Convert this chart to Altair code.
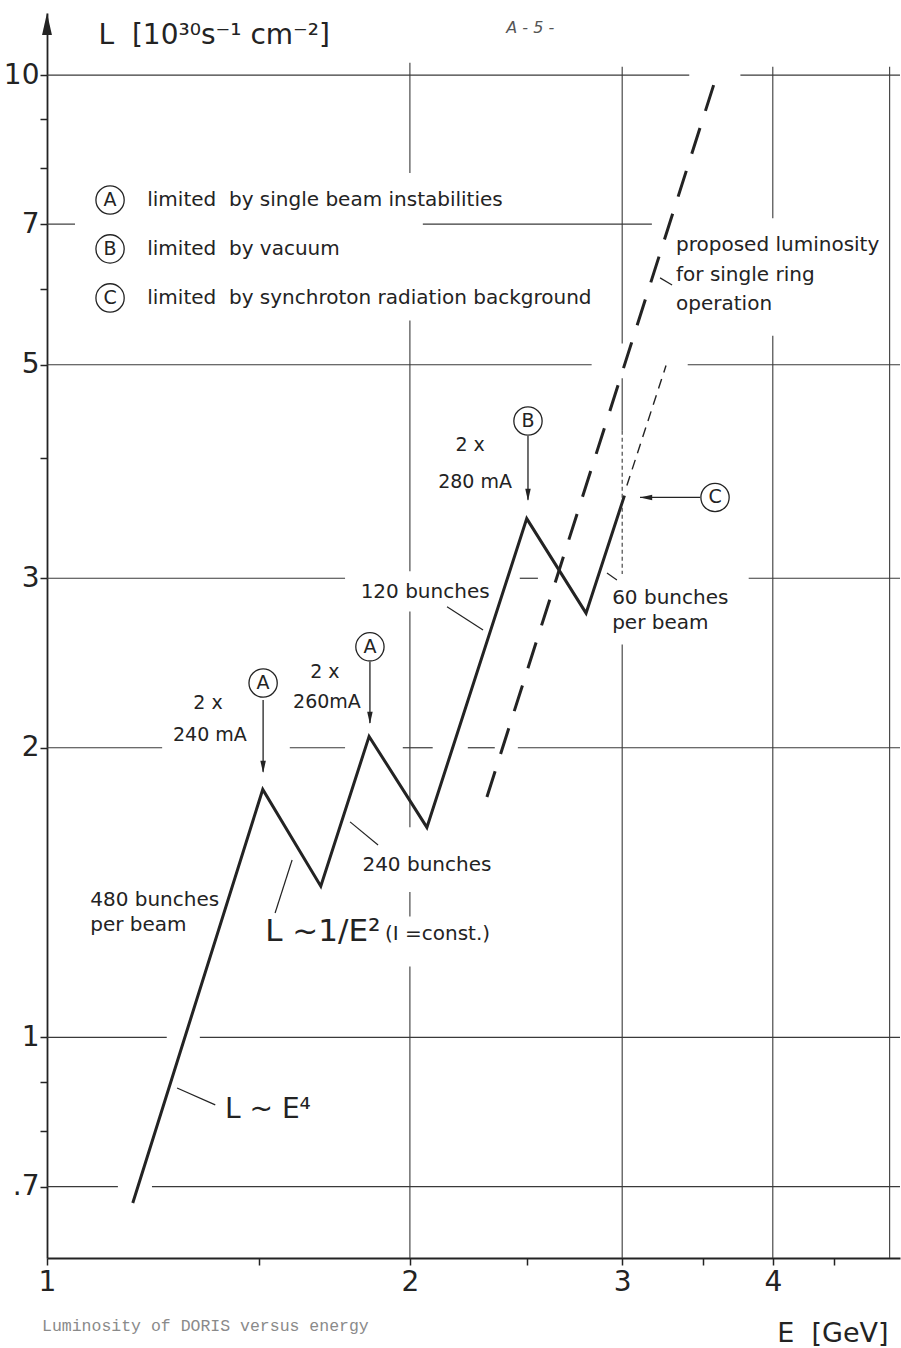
import altair as alt
import pandas as pd

# DORIS luminosity vs beam energy (E in GeV, L in 10^30 s^-1 cm^-2)
curve_E = [1.178, 1.51, 1.687, 1.85, 2.066, 2.50, 2.80, 3.013]
curve_L = [0.673, 1.81, 1.436, 2.055, 1.653, 3.46, 2.76, 3.656]

# proposed luminosity for single ring operation (L ~ E^4)
proposed_E = [2.317, 3.610]
proposed_L = [1.778, 10.17]

# continuation above the synchrotron radiation limit
extension_E = [3.027, 3.262]
extension_L = [3.745, 4.99]

# hand-drawn grid: horizontal segments (L, E from, E to)
hgrid_L = [10, 10, 7, 7, 5, 5, 3, 3, 3, 2, 2, 2, 2, 2, 1, 1, 0.7, 0.7]
hgrid_E0 = [1, 3.76, 1, 2.05, 1, 3.40, 1, 2.467, 3.82, 1, 1.590, 1.973, 2.234, 2.458, 1, 1.339, 1, 1.222]
hgrid_E1 = [3.41, 5.1, 1.055, 3.175, 2.83, 5.1, 1.767, 2.554, 5.1, 1.246, 1.767, 2.089, 2.352, 5.1, 1.257, 5.1, 1.145, 5.1]

# vertical segments (E, L from, L to)
vgrid_E = [2, 2, 2, 2, 2, 3, 3, 3, 4, 4, 5]
vgrid_L0 = [10.3, 5.56, 2.77, 1.416, 1.185, 10.2, 4.84, 2.56, 10.2, 5.36, 10.2]
vgrid_L1 = [7.91, 3.05, 1.654, 1.336, 0.59, 5.26, 4.27, 0.59, 7.10, 0.59, 0.59]
dotted_E = [3]
dotted_L0 = [4.27]
dotted_L1 = [3.03]

# limit markers: circled letters and arrows pointing at the curve
marker_letters = ["A", "A", "B", "C", "A", "B", "C"]
marker_E = [1.511, 1.853, 2.506, 3.582, 1.128, 1.128, 1.128]
marker_L = [2.335, 2.546, 4.371, 3.640, 7.417, 6.597, 5.867]

arrow_E0 = [1.511, 1.853, 2.506, 3.481]
arrow_L0 = [2.242, 2.456, 4.217, 3.640]
arrow_E1 = [1.511, 1.853, 2.506, 3.104]
arrow_L1 = [1.888, 2.122, 3.619, 3.640]
head_down_E = [1.511, 1.853, 2.506]
head_down_L = [1.910, 2.148, 3.662]
head_left_E = [3.140]
head_left_L = [3.640]

# leader lines from labels to the curves
leader_E0 = [2.147, 2.914, 1.784, 1.597, 1.282, 3.225]
leader_L0 = [2.802, 3.038, 1.675, 1.529, 0.886, 6.155]
leader_E1 = [2.300, 2.970, 1.882, 1.546, 1.379, 3.300]
leader_L1 = [2.651, 2.988, 1.585, 1.347, 0.851, 6.052]

# centred annotations
center_text = ["2 x", "240 mA", "2 x", "260mA", "2 x", "280 mA",
               "120 bunches", "240 bunches"]
center_E = [1.360, 1.365, 1.700, 1.707, 2.244, 2.265, 2.059, 2.066]
center_L = [2.227, 2.062, 2.398, 2.232, 4.127, 3.778, 2.904, 1.511]
center_size = [19, 19, 19, 19, 19, 19, 20, 20]

# left-aligned annotations
left_text = ["limited\u00a0 by single beam instabilities",
             "limited\u00a0 by vacuum",
             "limited\u00a0 by synchroton radiation background",
             "proposed luminosity", "for single ring", "operation",
             "60 bunches", "per beam", "480 bunches", "per beam",
             "L ~1/E\u00b2", "(I =const.)", "L ~ E\u2074"]
left_E = [1.211, 1.211, 1.211, 3.325, 3.325, 3.325, 2.943, 2.943,
          1.086, 1.086, 1.517, 1.907, 1.405]
left_L = [7.417, 6.597, 5.867, 6.659, 6.199, 5.783, 2.861, 2.696,
          1.390, 1.309, 1.287, 1.281, 0.841]
left_size = [20, 20, 20, 20, 20, 20, 20, 20, 20, 20, 31, 20, 28]

# page mark at the top and typed caption below the axis
page_mark = ["A - 5 -"]
page_mark_E = [2.517]
page_mark_L = [11.19]

caption = ["Luminosity of DORIS versus energy"]
caption_E = [0.9905]
caption_L = [0.502]

INK = "#232323"
GRID = "#3a3a3a"
FONT = "DejaVu Sans"

xs = alt.Scale(type="log", domain=[1, 5.1], nice=False, zero=False)
ys = alt.Scale(type="log", domain=[0.59, 11.6], nice=False, zero=False)

x_axis = alt.Axis(
    values=[1, 1.5, 2, 2.5, 3, 3.5, 4, 4.5],
    labelExpr="(datum.value == 1 || datum.value == 2 || datum.value == 3 || datum.value == 4) ? format(datum.value, 'd') : ''",
    grid=False, domainColor=INK, domainWidth=1.8, tickColor=INK, tickWidth=1.5,
    tickSize=7, labelFont=FONT, labelFontSize=28, labelColor=INK,
    labelPadding=3, labelFlush=False, labelOverlap=False,
    title="E\u00a0 [GeV]", titleFont=FONT, titleFontSize=27, titleFontWeight="normal",
    titleColor=INK, titleX=841, titleY=75, titleAlign="right", titleBaseline="middle",
)
y_axis = alt.Axis(
    values=[0.7, 0.8, 0.9, 1, 2, 3, 4, 5, 6, 7, 8, 9, 10],
    labelExpr="indexof([0.7, 1, 2, 3, 5, 7, 10], datum.value) >= 0 ? (datum.value < 1 ? '.7' : format(datum.value, 'd')) : ''",
    grid=False, domainColor=INK, domainWidth=1.8, tickColor=INK, tickWidth=1.5,
    tickSize=7, labelFont=FONT, labelFontSize=28, labelColor=INK,
    labelPadding=1, labelFlush=False, labelOverlap=False,
    title="L\u00a0 [10\u00b3\u2070s\u207b\u00b9\u00a0cm\u207b\u00b2]", titleFont=FONT, titleFontSize=28,
    titleFontWeight="normal", titleColor=INK, titleAngle=0, titleX=51, titleY=22,
    titleAlign="left", titleBaseline="middle",
)


def X(field="E"):
    return alt.X(field, type="quantitative", scale=xs, axis=x_axis)


def Y(field="L"):
    return alt.Y(field, type="quantitative", scale=ys, axis=y_axis)


hgrid = pd.DataFrame({"L": hgrid_L, "E": hgrid_E0, "E2": hgrid_E1})
vgrid = pd.DataFrame({"E": vgrid_E, "L": vgrid_L0, "L2": vgrid_L1})
dgrid = pd.DataFrame({"E": dotted_E, "L": dotted_L0, "L2": dotted_L1})
curve = pd.DataFrame({"E": curve_E, "L": curve_L, "i": range(len(curve_E))})
proposed = pd.DataFrame({"E": proposed_E, "L": proposed_L})
extension = pd.DataFrame({"E": extension_E, "L": extension_L})
markers = pd.DataFrame({"E": marker_E, "L": marker_L, "t": marker_letters})
arrows = pd.DataFrame({"E": arrow_E0, "L": arrow_L0, "E2": arrow_E1, "L2": arrow_L1})
heads_down = pd.DataFrame({"E": head_down_E, "L": head_down_L})
heads_left = pd.DataFrame({"E": head_left_E, "L": head_left_L})
leaders = pd.DataFrame({"E": leader_E0, "L": leader_L0, "E2": leader_E1, "L2": leader_L1})
centers = pd.DataFrame({"E": center_E, "L": center_L, "t": center_text, "s": center_size})
lefts = pd.DataFrame({"E": left_E, "L": left_L, "t": left_text, "s": left_size})
marks = pd.DataFrame({"E": page_mark_E, "L": page_mark_L, "t": page_mark})
caps = pd.DataFrame({"E": caption_E, "L": caption_L, "t": caption})
arrow_top = pd.DataFrame({"E": [1.0], "L": [11.30]})

h_layer = alt.Chart(hgrid).mark_rule(color=GRID, strokeWidth=1.2).encode(
    x=X(), x2="E2", y=Y())
v_layer = alt.Chart(vgrid).mark_rule(color=GRID, strokeWidth=1.1).encode(
    x=X(), y=Y(), y2="L2")
d_layer = alt.Chart(dgrid).mark_rule(color=GRID, strokeWidth=1.1, strokeDash=[4, 3]).encode(
    x=X(), y=Y(), y2="L2")

curve_layer = alt.Chart(curve).mark_line(color=INK, strokeWidth=3, strokeJoin="miter").encode(
    x=X(), y=Y(), order="i")
proposed_layer = alt.Chart(proposed).mark_line(
    color=INK, strokeWidth=3, strokeDash=[27, 18], strokeCap="butt").encode(x=X(), y=Y())
extension_layer = alt.Chart(extension).mark_line(
    color=INK, strokeWidth=1.4, strokeDash=[10, 7]).encode(x=X(), y=Y())

circle_layer = alt.Chart(markers).mark_point(
    shape="circle", filled=False, size=800, strokeWidth=1.3, color=INK, opacity=1).encode(
    x=X(), y=Y())
letter_layer = alt.Chart(markers).mark_text(
    font=FONT, fontSize=19, color=INK, align="center", baseline="middle").encode(
    x=X(), y=Y(), text="t")

shaft_layer = alt.Chart(arrows).mark_rule(color=INK, strokeWidth=1.3).encode(
    x=X(), y=Y(), x2="E2", y2="L2")
down_layer = alt.Chart(heads_down).mark_point(
    shape="M-0.45,-1L0.45,-1L0,1Z", filled=True, size=150, color=INK, opacity=1).encode(
    x=X(), y=Y())
left_head_layer = alt.Chart(heads_left).mark_point(
    shape="M1,-0.45L1,0.45L-1,0Z", filled=True, size=150, color=INK, opacity=1).encode(
    x=X(), y=Y())
top_arrow_layer = alt.Chart(arrow_top).mark_point(
    shape="M-0.45,1L0.45,1L0,-1Z", filled=True, size=484, color=INK, opacity=1).encode(
    x=X(), y=Y())

leader_layer = alt.Chart(leaders).mark_rule(color=INK, strokeWidth=1.2).encode(
    x=X(), y=Y(), x2="E2", y2="L2")

center_layer = alt.Chart(centers).mark_text(
    font=FONT, color=INK, align="center", baseline="middle").encode(
    x=X(), y=Y(), text="t", size=alt.Size("s", scale=None))
left_layer = alt.Chart(lefts).mark_text(
    font=FONT, color=INK, align="left", baseline="middle").encode(
    x=X(), y=Y(), text="t", size=alt.Size("s", scale=None))
mark_layer = alt.Chart(marks).mark_text(
    font=FONT, fontSize=16, fontStyle="italic", color="#555555", align="center",
    baseline="middle").encode(x=X(), y=Y(), text="t")
caption_layer = alt.Chart(caps).mark_text(
    font="Liberation Mono", fontSize=16.5, color="#8a8a8a", align="left", baseline="middle").encode(
    x=X(), y=Y(), text="t")

chart = alt.layer(
    h_layer, v_layer, d_layer,
    curve_layer, proposed_layer, extension_layer,
    leader_layer, shaft_layer, down_layer, left_head_layer, top_arrow_layer,
    circle_layer, letter_layer, center_layer, left_layer, mark_layer, caption_layer,
).properties(
    width=853, height=1245,
    autosize=alt.AutoSizeParams(type="none"),
    padding={"left": 47, "top": 13, "right": 1, "bottom": 90},
    background="white",
).configure_view(stroke=None)

chart.save("out.html", embed_options={"renderer": "svg", "actions": False})
